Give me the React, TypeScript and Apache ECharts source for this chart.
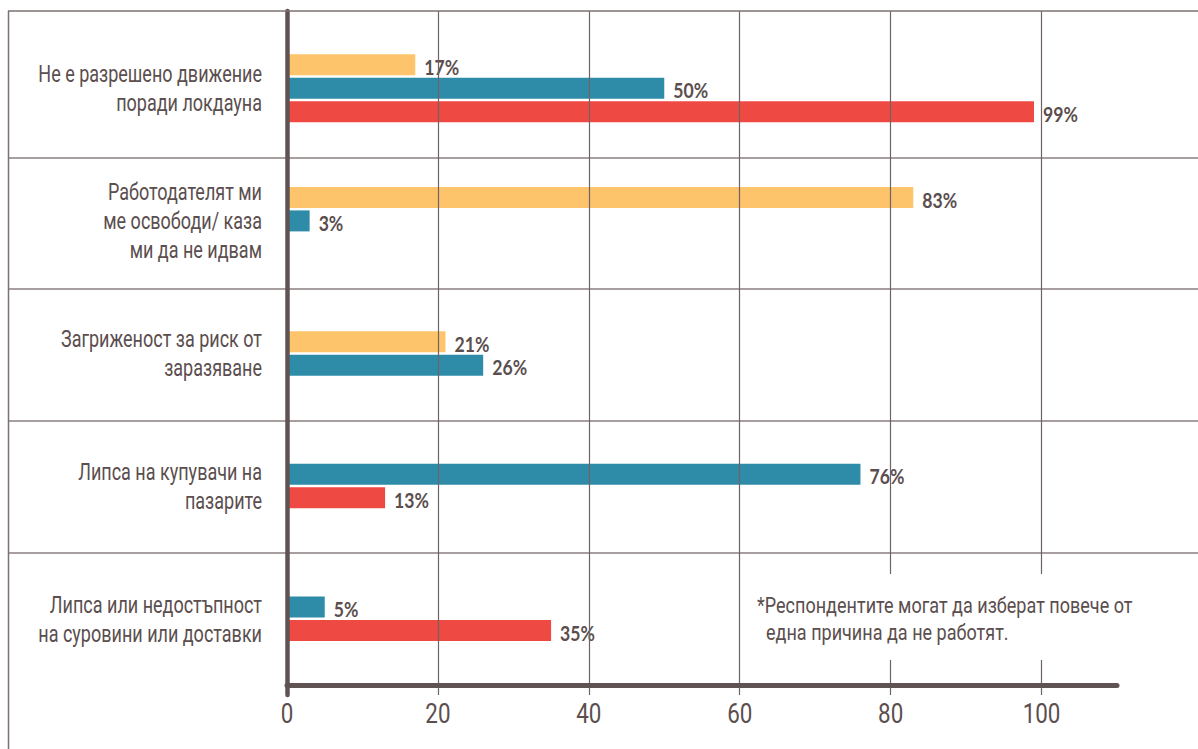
import React, { useEffect, useRef } from "react";
import * as echarts from "echarts";

const categories = [
  "Не е разрешено движение\nпоради локдауна",
  "Работодателят ми\nме освободи/ каза\nми да не идвам",
  "Загриженост за риск от\nзаразяване",
  "Липса на купувачи на\nпазарите",
  "Липса или недостъпност\nна суровини или доставки",
];
// null = no bar in that category; 0 = empty slot kept in the group
const yellowValues: (number | null)[] = [17, 83, 21, null, null];
const tealValues: (number | null)[] = [50, 3, 26, 76, 5];
const redValues: (number | null)[] = [99, 0, null, 13, 35];
const seriesNames = ["Група 1", "Група 2", "Група 3"];
const xTicks = [0, 20, 40, 60, 80, 100];
const xMin = 0;
const xMax = 110;
const xInterval = 20;
const noteLine1 = "*Респондентите могат да изберат повече от";
const noteLine2 = "една причина да не работят.";

const COLORS = ["#FDC46B", "#2E8CA8", "#EF4943"];
const TEXT = "#5b4e4e";
const AXIS = "#5f5353";
const FONT = "Roboto, 'Noto Sans', sans-serif";
const allSeries = [yellowValues, tealValues, redValues];
const BAR = 21;
const PITCH = 23.5;

function makeRender(k: number) {
  return (params: any, api: any) => {
    const val = api.value(0);
    const cat = api.value(1);
    const present = allSeries.map((s) => s[cat] !== null && s[cat] !== undefined);
    const n = present.filter(Boolean).length;
    let idx = 0;
    for (let i = 0; i < k; i++) if (present[i]) idx++;
    const start = api.coord([0, cat]);
    const end = api.coord([val, cat]);
    const cy = start[1] + (idx - (n - 1) / 2) * PITCH;
    return {
      type: "group",
      children: [
        {
          type: "rect",
          shape: { x: start[0], y: cy - BAR / 2, width: end[0] - start[0], height: BAR },
          style: { fill: COLORS[k] },
        },
        {
          type: "text",
          x: end[0] + 9,
          y: cy + 2,
          scaleX: 0.84,
          style: {
            text: val + "%",
            fill: TEXT,
            font: `bold 21px Lato, ${FONT}`,
            verticalAlign: "middle",
            align: "left",
          },
        },
      ],
    };
  };
}

export default function App() {
  const ref = useRef<HTMLDivElement>(null);
  useEffect(() => {
    if (!ref.current) return;
    const chart = echarts.init(ref.current, undefined, { renderer: "svg" });
    const barSeries = allSeries.map((vals, k) => ({
      type: "custom",
      name: seriesNames[k],
      xAxisIndex: 2,
      yAxisIndex: 2,
      z: 2,
      clip: false,
      encode: { x: 0, y: 1 },
      renderItem: makeRender(k),
      data: vals
        .map((v, i) => (v !== null && v > 0 ? [v, i] : null))
        .filter((d) => d !== null),
    }));
    const categoryLabelSeries = {
      type: "custom",
      name: "labels",
      xAxisIndex: 2,
      yAxisIndex: 2,
      z: 3,
      clip: false,
      silent: true,
      encode: { x: 0, y: 1 },
      data: categories.map((c, i) => [0, i]),
      renderItem: (params: any, api: any) => {
        const cat = api.value(1);
        const p = api.coord([0, cat]);
        return {
          type: "text",
          x: p[0] - 25,
          y: p[1],
          scaleX: 0.75,
          style: {
            text: categories[cat],
            fill: TEXT,
            font: `24px ${FONT}`,
            lineHeight: 29,
            align: "right",
            verticalAlign: "middle",
          },
        };
      },
    };
    const tickLabelSeries = {
      type: "custom",
      name: "ticks",
      xAxisIndex: 0,
      yAxisIndex: 0,
      z: 3,
      clip: false,
      silent: true,
      encode: { x: 0, y: 1 },
      data: xTicks.map((v) => [v, 0]),
      renderItem: (params: any, api: any) => {
        const v = api.value(0);
        const p = api.coord([v, 0]);
        return {
          type: "text",
          x: p[0],
          y: p[1] + 18,
          scaleX: 0.8,
          style: {
            text: String(v),
            fill: TEXT,
            font: `28px ${FONT}`,
            align: "center",
            verticalAlign: "middle",
          },
        };
      },
    };
    chart.setOption({
      animation: false,
      backgroundColor: "#ffffff",
      grid: [
        { left: 287, right: 81, top: 11, bottom: 54, outerBoundsMode: "none", containLabel: false },
        { left: 8, right: 0, top: 26, bottom: 65, outerBoundsMode: "none", containLabel: false },
        { left: 287, right: 81, top: 22, bottom: 64, outerBoundsMode: "none", containLabel: false },
      ],
      xAxis: [
        {
          gridIndex: 0,
          type: "value",
          min: xMin,
          max: xMax,
          interval: xInterval,
          z: 5,
          axisLine: { show: false },
          axisTick: { show: false },
          axisLabel: { show: false },
          splitLine: {
            show: true,
            showMinLine: false,
            showMaxLine: false,
            lineStyle: { color: "#6f6363", width: 1.2 },
          },
        },
        { gridIndex: 1, type: "value", show: false, min: 0, max: 1 },
        {
          gridIndex: 2,
          type: "value",
          min: xMin,
          max: xMax,
          interval: xInterval,
          z: 6,
          axisLine: { show: true, lineStyle: { color: AXIS, width: 5 } },
          axisTick: { show: false },
          splitLine: { show: false },
          axisLabel: { show: false },
        },
      ],
      yAxis: [
        {
          gridIndex: 0,
          type: "value",
          min: 0,
          max: 1,
          z: 6,
          axisLine: { show: true, lineStyle: { color: AXIS, width: 4.5 } },
          axisTick: { show: false },
          axisLabel: { show: false },
          splitLine: { show: false },
        },
        {
          gridIndex: 1,
          type: "category",
          data: categories,
          inverse: true,
          axisLine: { show: false },
          axisTick: { show: false },
          axisLabel: { show: false },
          splitLine: {
            show: true,
            showMinLine: false,
            showMaxLine: false,
            lineStyle: { color: "#8a7f7f", width: 1.5 },
          },
        },
        {
          gridIndex: 2,
          type: "category",
          data: categories,
          inverse: true,
          axisLine: { show: false },
          axisTick: { show: false },
          splitLine: { show: false },
          axisLabel: { show: false },
        },
      ],
      graphic: [
        {
          type: "line",
          shape: { x1: 8, y1: 11, x2: 1198, y2: 11 },
          style: { stroke: "#7d7171", lineWidth: 1.5 },
          z: 10,
        },
        {
          type: "line",
          shape: { x1: 8.5, y1: 11, x2: 8.5, y2: 749 },
          style: { stroke: "#7d7171", lineWidth: 1.5 },
          z: 10,
        },
        {
          type: "rect",
          shape: { x: 748, y: 574, width: 400, height: 86 },
          style: { fill: "#ffffff" },
          z: 10,
        },
        {
          type: "text",
          x: 757,
          y: 605,
          scaleX: 0.82,
          style: { text: noteLine1, fill: TEXT, font: `22px ${FONT}`, verticalAlign: "middle" },
          z: 11,
        },
        {
          type: "text",
          x: 766,
          y: 632,
          scaleX: 0.82,
          style: { text: noteLine2, fill: TEXT, font: `22px ${FONT}`, verticalAlign: "middle" },
          z: 11,
        },
      ],
      series: [...barSeries, categoryLabelSeries, tickLabelSeries],
    });
    return () => chart.dispose();
  }, []);
  return (
    <div
      ref={ref}
      style={{ position: "fixed", left: 0, top: 0, width: 1198, height: 749, background: "#fff" }}
    />
  );
}
